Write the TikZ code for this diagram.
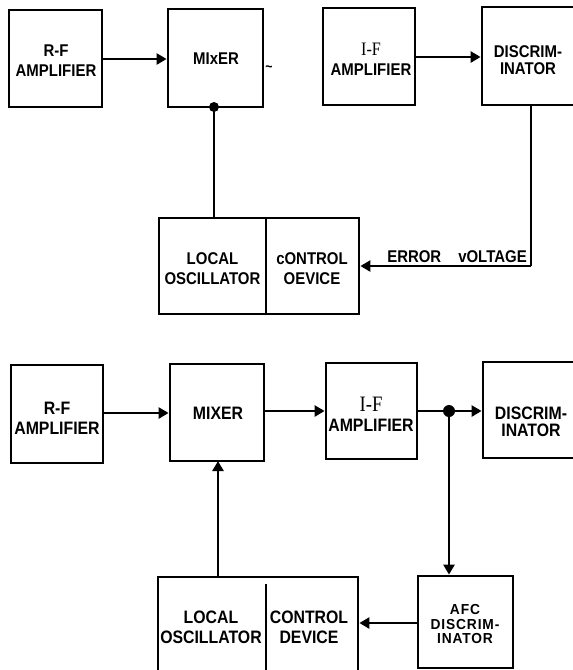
\documentclass[tikz,border=0pt]{standalone}
\usepackage{fontspec}
\setmainfont{Liberation Sans}
\newfontfamily\labf{Liberation Sans}[FakeStretch=0.88]
\newfontfamily\serf{Liberation Serif}[FakeStretch=0.85]
\newfontfamily\afcf{Liberation Sans}[FakeStretch=0.95,LetterSpace=6]
\usetikzlibrary{arrows.meta}
\tikzset{
  blk/.style={draw, line width=2.8pt, rectangle, inner sep=0pt},
  lbl/.style={font=\labf\bfseries\fontsize{17}{20}\selectfont, align=center, inner sep=0pt},
  lblb/.style={font=\labf\bfseries\fontsize{18}{20}\selectfont, align=center, inner sep=0pt},
  tight/.style={font=\labf\bfseries\fontsize{17}{16.5}\selectfont, align=center, inner sep=0pt},
  conn/.style={line width=2.8pt},
  arr/.style={line width=2.8pt, -{Triangle[length=10pt,width=11pt]}},
  jdot/.style={circle, fill, inner sep=0pt, minimum size=10pt}
}
\begin{document}
\begin{tikzpicture}[x=1pt,y=-1pt]
\useasboundingbox (0,0) rectangle (573,670);
\clip (0,0) rectangle (573,670);
% ---------- top diagram ----------
\node[blk, minimum width=93pt, minimum height=97pt] (rf1) at (55.5,58.5) {};
\node[lbl] at (56,61) {R-F\\AMPLIFIER};
\node[blk, minimum width=95pt, minimum height=98pt] (mx1) at (215.5,58) {};
\node[lbl] at (216,59) {MIxER};
\node[font=\labf\bfseries\fontsize{14}{14}\selectfont, inner sep=0pt] (tl) at (269,69) {\textasciitilde};
\node[blk, minimum width=92pt, minimum height=97pt] (if1) at (369,56.5) {};
\node[lbl] at (371,59) {{\serf\mdseries\fontsize{19}{19}\selectfont I-F}\\AMPLIFIER};
\node[blk, minimum width=98pt, minimum height=98pt] (dc1) at (531,56) {};
\node[tight] at (528,60) {DISCRIM-\\INATOR};
\node[blk, minimum width=200pt, minimum height=96pt] (lo1) at (259,266) {};
\draw[conn] (266,218) -- (266,314);
\node[lbl] at (212.5,269) {LOCAL\\OSCILLATOR};
\node[lbl] at (312,269) {cONTROL\\OEVICE};
\draw[arr] (rf1.east |- 0,59) -- (mx1.west |- 0,59);
\draw[arr] (if1.east |- 0,57) -- (dc1.west |- 0,57);
\coordinate (mb) at (214,107);
\node[jdot] (d1) at (mb) {};
\draw[conn] (mb) -- (mb |- lo1.north);
\coordinate (ec) at (dc1.south |- lo1.east);
\draw[conn] (dc1.south) -- (ec);
\draw[arr] (ec) -- (lo1.east);
\node[lbl, anchor=south] at (457,263) {ERROR\hspace{17pt}vOLTAGE};
% ---------- bottom diagram ----------
\node[blk, minimum width=92pt, minimum height=98pt] (rf2) at (57,414) {};
\node[lblb] at (57,418) {R-F\\AMPLIFIER};
\node[blk, minimum width=94pt, minimum height=97pt] (mx2) at (217,412.5) {};
\node[lblb] at (218,413.5) {MIXER};
\node[blk, minimum width=91pt, minimum height=96pt] (if2) at (371.5,411) {};
\node[lblb] at (371,414) {{\serf\mdseries\fontsize{22}{20}\selectfont I-F}\\AMPLIFIER};
\node[blk, minimum width=97pt, minimum height=96pt] (dc2) at (531.5,410) {};
\node[lblb, font=\labf\bfseries\fontsize{18}{16.5}\selectfont] at (531,422) {DISCRIM-\\INATOR};
\node[blk, minimum width=95pt, minimum height=92pt] (afc) at (465.5,622) {};
\node[font=\afcf\bfseries\fontsize{14.5}{15}\selectfont, align=center, inner sep=0pt] at (465,624) {AFC\\DISCRIM-\\INATOR};
\node[blk, minimum width=200pt, minimum height=113pt] (lo2) at (258,633.5) {};
\draw[conn] (266,584) -- (266,690);
\node[lblb] at (211,627) {LOCAL\\OSCILLATOR};
\node[lblb] at (309,627) {CONTROL\\DEVICE};
\draw[arr] (rf2.east |- 0,413) -- (mx2.west |- 0,413);
\draw[arr] (mx2.east |- 0,411) -- (if2.west |- 0,411);
\coordinate (jb) at (449,411);
\draw[conn] (if2.east |- jb) -- (jb);
\node[jdot, minimum size=12pt] (d2) at (jb) {};
\draw[arr] (jb) -- (dc2.west |- jb);
\draw[arr] (jb) -- (jb |- afc.north);
\draw[arr] (afc.west |- 0,623) -- (lo2.east |- 0,623);
\draw[arr] (218,577) -- (218,461);
\end{tikzpicture}
\end{document}
